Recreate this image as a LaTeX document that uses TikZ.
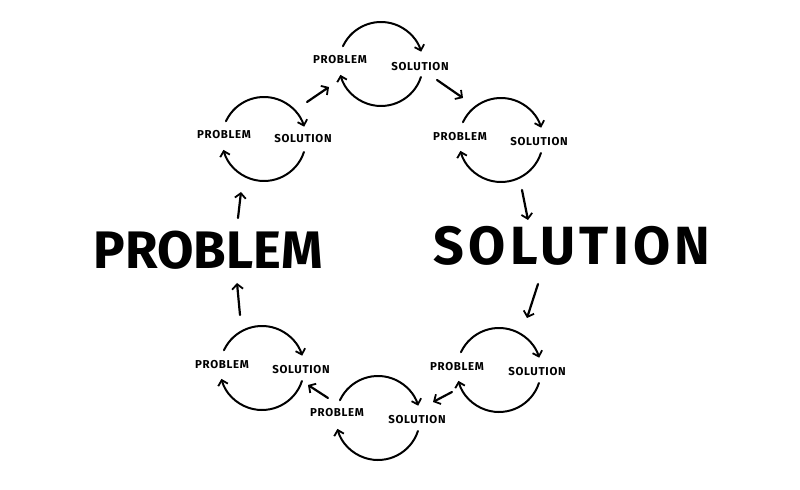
\documentclass[tikz,border=0pt]{standalone}
\usepackage{fontspec}
\setsansfont{Fira Sans}
\usetikzlibrary{positioning,calc}
\usetikzlibrary{arrows.meta}
\tikzset{cyc/.style={line width=2pt,line cap=round,-{Straight Barb[length=5pt,width=10pt,line width=1.8pt]}}, link/.style={line width=2.2pt,line cap=round,-{Straight Barb[length=5pt,width=11pt,line width=1.8pt]}}, tag/.style={inner sep=0pt,font=\sffamily\bfseries\addfontfeature{LetterSpace=6}\fontsize{11.5}{11.5}\selectfont}, big/.style={inner sep=0pt,font=\sffamily\bfseries\fontsize{53}{53}\selectfont}}

\begin{document}
\begin{tikzpicture}[x=1bp,y=1bp]
\useasboundingbox (0,0) rectangle (800,490);
\coordinate (c1) at (381,426);
\coordinate (c2) at (264,351);
\coordinate (c3) at (501,350);
\coordinate (c4) at (262,122);
\coordinate (c5) at (378,72);
\coordinate (c6) at (499,120);
% big words
\node[big] (prob) at (208,240) {PROBLEM};
\node[big,font=\sffamily\bfseries\addfontfeature{LetterSpace=8}\fontsize{54}{54}\selectfont] (sol) at (572,244) {SOLUTION};
% small cycles
\node[tag] (p1) at ($(c1)+(-41,4)$) {PROBLEM};
\node[tag] (s1) at ($(c1)+(39,-3)$) {SOLUTION};
\draw[cyc] ([shift={(155:42)}]c1) arc[start angle=155,end angle=17,radius=42];
\draw[cyc] ([shift={(-18:42)}]c1) arc[start angle=-18,end angle=-165,radius=42];
\node[tag] (p2) at ($(c2)+(-40,4)$) {PROBLEM};
\node[tag] (s2) at ($(c2)+(39,0)$) {SOLUTION};
\draw[cyc] ([shift={(155:42)}]c2) arc[start angle=155,end angle=17,radius=42];
\draw[cyc] ([shift={(-18:42)}]c2) arc[start angle=-18,end angle=-165,radius=42];
\node[tag] (p3) at ($(c3)+(-41,3)$) {PROBLEM};
\node[tag] (s3) at ($(c3)+(38,-2)$) {SOLUTION};
\draw[cyc] ([shift={(155:42)}]c3) arc[start angle=155,end angle=17,radius=42];
\draw[cyc] ([shift={(-18:42)}]c3) arc[start angle=-18,end angle=-165,radius=42];
\node[tag] (p4) at ($(c4)+(-40,3)$) {PROBLEM};
\node[tag] (s4) at ($(c4)+(39,-2)$) {SOLUTION};
\draw[cyc] ([shift={(155:42)}]c4) arc[start angle=155,end angle=17,radius=42];
\draw[cyc] ([shift={(-18:42)}]c4) arc[start angle=-18,end angle=-165,radius=42];
\node[tag] (p5) at ($(c5)+(-41,5)$) {PROBLEM};
\node[tag] (s5) at ($(c5)+(39,-2)$) {SOLUTION};
\draw[cyc] ([shift={(155:42)}]c5) arc[start angle=155,end angle=17,radius=42];
\draw[cyc] ([shift={(-18:42)}]c5) arc[start angle=-18,end angle=-165,radius=42];
\node[tag] (p6) at ($(c6)+(-42,3)$) {PROBLEM};
\node[tag] (s6) at ($(c6)+(38,-2)$) {SOLUTION};
\draw[cyc] ([shift={(155:42)}]c6) arc[start angle=155,end angle=17,radius=42];
\draw[cyc] ([shift={(-18:42)}]c6) arc[start angle=-18,end angle=-165,radius=42];
% links round the ring
\coordinate (la) at (307,388);
\coordinate (lb) at (329,403);
\coordinate (lc) at (437,410);
\coordinate (ld) at (463,392);
\coordinate (le) at (522,300);
\coordinate (lf) at (528,270);
\coordinate (lg) at (538,206);
\coordinate (lh) at (527,172);
\coordinate (li) at (452,98);
\coordinate (lj) at (433,88);
\coordinate (lk) at (328,92);
\coordinate (ll) at (308,105);
\coordinate (lm) at (240,175);
\coordinate (ln) at (237,207);
\coordinate (lo) at (238,272);
\coordinate (lp) at (241,298);
\draw[link] (la)--(lb);
\draw[link] (lc)--(ld);
\draw[link] (le)--(lf);
\draw[link] (lg)--(lh);
\draw[link] (li)--(lj);
\draw[link] (lk)--(ll);
\draw[link] (lm)--(ln);
\draw[link] (lo)--(lp);
\end{tikzpicture}
\end{document}
